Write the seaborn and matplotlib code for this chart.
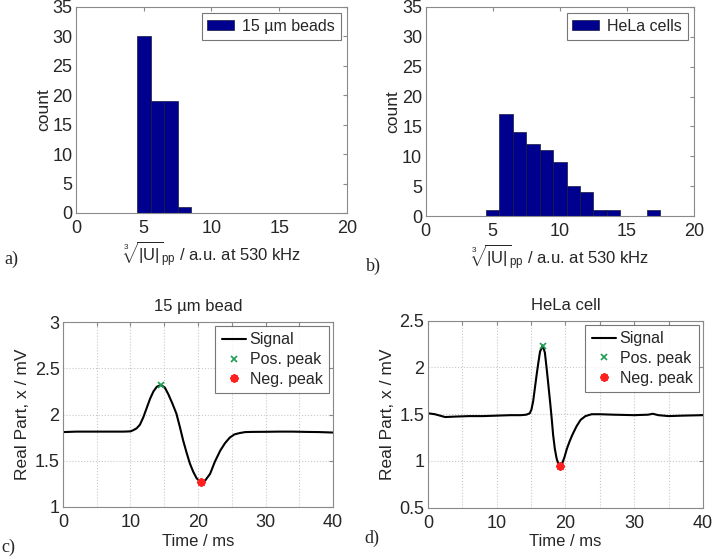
import numpy as np
import pandas as pd
import matplotlib
matplotlib.use("Agg")
import matplotlib.pyplot as plt
import seaborn as sns

# histogram data (bin centres, width 1)
bead_bins = [5, 6, 7, 8]
bead_counts = [30, 19, 19, 1]
hela_bins = [5, 6, 7, 8, 9, 10, 11, 12, 13, 14, 17]
hela_counts = [1, 17, 14, 12, 11, 9, 5, 4, 1, 1, 1]

# signal traces
bead_t = [0, 2, 4, 6, 8, 9, 10, 10.4, 10.9, 11.4, 11.9, 12.4, 12.9, 13.4, 13.9, 14.5, 15.1,
          15.6, 16.2, 16.8, 17.3, 17.8, 18.3, 18.8, 19.3, 19.8, 20.45, 21.1, 21.8, 22.5, 23.3,
          24.0, 24.7, 25.4, 26.2, 27, 28, 30, 32, 34, 36, 38, 40]
bead_v = [1.81, 1.815, 1.815, 1.815, 1.815, 1.815, 1.818, 1.83, 1.85, 1.89, 1.97, 2.07, 2.17,
          2.25, 2.30, 2.32, 2.29, 2.22, 2.12, 2.01, 1.87, 1.72, 1.59, 1.47, 1.38, 1.31, 1.265,
          1.29, 1.36, 1.49, 1.61, 1.69, 1.75, 1.785, 1.80, 1.81, 1.812, 1.813, 1.815, 1.815,
          1.812, 1.81, 1.805]
hela_t = [0, 1, 2.5, 4, 6, 8, 10, 12, 13.5, 14.3, 14.8, 15.05, 15.3, 15.55, 15.8, 16.05, 16.3,
          16.68, 17.0, 17.26, 17.5, 17.75, 18.0, 18.2, 18.45, 18.7, 18.95, 19.2, 19.5, 19.85,
          20.2, 20.6, 21.0, 21.6, 22.2, 22.9, 23.8, 25, 27, 30, 32, 32.7, 33.5, 35, 37, 40]
hela_v = [1.51, 1.50, 1.47, 1.475, 1.48, 1.48, 1.485, 1.49, 1.49, 1.495, 1.51, 1.55, 1.64,
          1.78, 1.92, 2.05, 2.17, 2.235, 2.16, 1.99, 1.82, 1.64, 1.45, 1.28, 1.13, 1.03, 0.97,
          0.945, 0.97, 1.04, 1.13, 1.21, 1.28, 1.37, 1.44, 1.48, 1.50, 1.50, 1.495, 1.49,
          1.495, 1.505, 1.49, 1.48, 1.485, 1.49]

sns.set_style("white")
plt.rcParams['font.family'] = ['Liberation Sans', 'DejaVu Sans']
plt.rcParams['mathtext.fontset'] = 'custom'
plt.rcParams['mathtext.rm'] = 'Liberation Sans'
plt.rcParams['mathtext.it'] = 'Liberation Sans:italic'
plt.rcParams['font.size'] = 11

spine_col = '#8a8a8a'
txt_col = '#262626'
navy = '#00008f'
xlab = r'$\sqrt[3]{|\mathrm{U}|}_{\mathrm{pp}}$ / a.u. at 530 kHz'

fig = plt.figure(figsize=(7.14, 5.58), dpi=100)
ax_a = fig.add_axes([0.1064, 0.6183, 0.3796, 0.3692])
ax_b = fig.add_axes([0.5962, 0.6129, 0.3758, 0.3746])
ax_c = fig.add_axes([0.0882, 0.0914, 0.3782, 0.3315])
ax_d = fig.add_axes([0.5994, 0.0901, 0.3852, 0.3351])


def style_axes(ax):
    for s in ax.spines.values():
        s.set_color(spine_col)
        s.set_linewidth(0.8)
    ax.tick_params(direction='in', length=3, color=spine_col, labelcolor=txt_col,
                   labelsize=13, top=True, right=True)
    ax.tick_params(axis='x', pad=5)
    ax.tick_params(axis='y', pad=2.5)


for ax, bins, counts, name in [(ax_a, bead_bins, bead_counts, '15 µm beads'),
                               (ax_b, hela_bins, hela_counts, 'HeLa cells')]:
    df = pd.DataFrame({'val': bins, 'n': counts})
    sns.histplot(data=df, x='val', weights='n', binwidth=1, binrange=(0.5, 20.5), ax=ax,
                 color=navy, alpha=1, edgecolor='#1a1a40', linewidth=0.5, label=name)
    ax.set_xlim(0, 20)
    ax.set_ylim(0, 35)
    ax.set_xticks(range(0, 21, 5))
    ax.set_yticks(range(0, 36, 5))
    ax.set_xlabel(xlab, fontsize=12, color=txt_col, labelpad=2)
    ax.set_ylabel('count', fontsize=12.5, color=txt_col, labelpad=1)
    style_axes(ax)
    leg = ax.legend(loc='upper right', fontsize=11.5, frameon=True, fancybox=False,
                    borderaxespad=0.4, handlelength=1.7, handleheight=0.6,
                    handletextpad=0.5, borderpad=0.35)
    leg.get_frame().set_edgecolor('#555555')
    leg.get_frame().set_linewidth(0.8)

for ax, t, v, title, ylim, yt in [(ax_c, bead_t, bead_v, '15 µm bead', (1, 3),
                                   [1, 1.5, 2, 2.5, 3]),
                                  (ax_d, hela_t, hela_v, 'HeLa cell', (0.5, 2.5),
                                   [0.5, 1, 1.5, 2, 2.5])]:
    sns.lineplot(x=t, y=v, ax=ax, color='black', linewidth=1.5, label='Signal')
    i_max = int(np.argmax(v))
    i_min = int(np.argmin(v))
    ax.plot(t[i_max], v[i_max], 'x', color='#1a9e50', markersize=4.5, mew=1.2,
            linestyle='none', label='Pos. peak')
    ax.plot(t[i_min], v[i_min], marker=(8, 2, 0), color='#ff2020', markersize=6, mew=1.5,
            linestyle='none', label='Neg. peak')
    ax.set_xlim(0, 40)
    ax.set_ylim(*ylim)
    ax.set_xticks(range(0, 41, 5))
    ax.set_xticklabels(['0', '', '10', '', '20', '', '30', '', '40'])
    ax.set_yticks(yt)
    ax.set_yticklabels([('%g' % y) for y in yt])
    ax.grid(True, linestyle=':', color='#c8c8c8', linewidth=0.8)
    ax.set_title(title, fontsize=12, color=txt_col, pad=8)
    ax.set_xlabel('Time / ms', fontsize=12, color=txt_col, labelpad=2)
    ax.set_ylabel('Real Part, x / mV', fontsize=12.5, color=txt_col, labelpad=3)
    style_axes(ax)
    leg = ax.legend(loc='upper right', fontsize=11.5, frameon=True, fancybox=False,
                    borderaxespad=0.25, handlelength=1.5, handletextpad=0.25,
                    borderpad=0.4, labelspacing=0.3)
    leg.get_frame().set_edgecolor('#555555')
    leg.get_frame().set_linewidth(0.8)

for x, y, s in [(0.006, 0.527, 'a)'), (0.512, 0.515, 'b)'), (0.002, 0.01, 'c)'),
                (0.511, 0.027, 'd)')]:
    fig.text(x, y, s, fontsize=13, family=['Liberation Serif'], color=txt_col)

fig.savefig('out.png', dpi=100)
